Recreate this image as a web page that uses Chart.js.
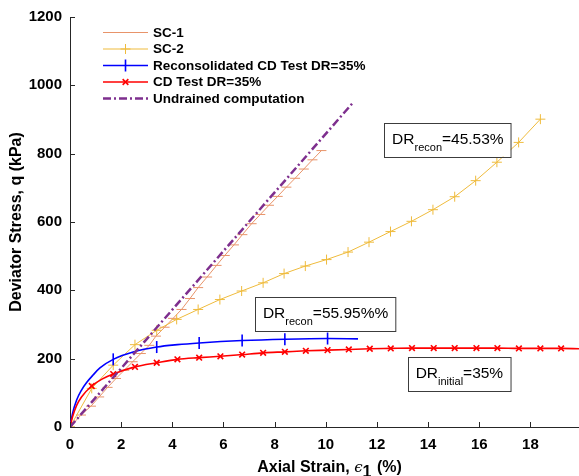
<!DOCTYPE html>
<html>
<head>
<meta charset="utf-8">
<script src="https://cdn.jsdelivr.net/npm/chart.js@4.4.1/dist/chart.umd.min.js"></script>
<style>
  html, body { margin: 0; padding: 0; background: #fff; overflow: hidden; }
  #wrap { width: 579px; height: 476px; }
</style>
</head>
<body>
<div id="wrap"><canvas id="myChart"></canvas></div>
<script>
'use strict';

// SC-1 (marker on every point)
let sc1Strain = [0, 0.43, 0.82, 1.14, 1.47, 1.8, 2.12, 2.45, 2.77, 3.1, 3.36, 3.7, 4.03, 4.36, 4.69, 5.01, 5.36, 5.73, 6.05, 6.41, 6.74, 7.1, 7.44, 7.78, 8.12, 8.46, 8.8, 9.14, 9.48, 9.83];
let sc1Stress = [0, 35, 61, 88, 116, 142, 166, 191, 215, 239, 266, 292, 318, 344, 376, 408, 439, 473, 502, 533, 563, 595, 622, 649, 675, 702, 728, 755, 782, 809];

// SC-2 (marker on every point)
let sc2Strain = [0, 0.85, 1.69, 2.54, 3.39, 4.17, 5.01, 5.86, 6.71, 7.55, 8.37, 9.2, 10.03, 10.87, 11.69, 12.53, 13.35, 14.19, 15.04, 15.86, 16.69, 17.54, 18.39];
let sc2Stress = [0, 113, 181, 241, 283, 315, 344, 373, 398, 422, 449, 471, 490, 512, 541, 572, 602, 636, 674, 721, 775, 833, 901];

// Reconsolidated CD test, DR = 35%
let reconStrain = [0, 0.1, 0.26, 0.45, 0.65, 0.9, 1.17, 1.69, 2.5, 3.39, 4.2, 5.05, 6.73, 8.4, 10.07, 11.26];
let reconStress = [0, 40, 79, 108, 130, 152, 173, 198, 220, 234, 241, 246, 253, 257, 259, 258];
let reconMarkStrain = [0, 1.69, 3.39, 5.05, 6.73, 8.4, 10.07];
let reconMarkStress = [0, 198, 234, 246, 253, 257, 259];

// CD test, DR = 35%
let cdStrain = [0, 0.1, 0.25, 0.45, 0.85, 1.25, 1.69, 2.54, 3.39, 4.2, 5.05, 5.88, 6.73, 7.55, 8.4, 9.22, 10.07, 10.9, 11.72, 12.54, 13.37, 14.22, 15.04, 15.89, 16.71, 17.55, 18.39, 19.2, 19.9];
let cdStress = [0, 30, 62, 88, 120, 140, 155, 176, 188, 198, 203, 207, 212, 217, 220, 223, 225, 227, 229, 230, 231, 231, 231, 231, 231, 230, 230, 230, 229];
let cdMarkStrain = [0, 0.85, 1.69, 2.54, 3.39, 4.2, 5.05, 5.88, 6.73, 7.55, 8.4, 9.22, 10.07, 10.9, 11.72, 12.54, 13.37, 14.22, 15.04, 15.89, 16.71, 17.55, 18.39, 19.2];
let cdMarkStress = [0, 120, 155, 176, 188, 198, 203, 207, 212, 217, 220, 223, 225, 227, 229, 230, 231, 231, 231, 231, 231, 230, 230, 230];

// undrained computation
let undrainedStrain = [0, 11.07];
let undrainedStress = [0, 950];

let xTicks = [0, 2, 4, 6, 8, 10, 12, 14, 16, 18];
let yTicks = [0, 200, 400, 600, 800, 1000, 1200];

let legendNames = ['SC-1', 'SC-2', 'Reconsolidated CD Test DR=35%', 'CD Test DR=35%', 'Undrained computation'];

// text boxes: [sub text, rest, left strain, top stress]
let notes = [
  ['recon', '=45.53%', 12.28, 891],
  ['recon', '=55.95%%', 7.23, 380],
  ['initial', '=35%', 13.2, 205]
];

const axisColor = '#262626';
const cSc1 = '#e8946a';
const cSc2 = '#efbb3c';
const cBlue = '#0000ff';
const cRed = '#ff0000';
const cPurple = '#7e2f8e';

function pts(xs, ys) {
  let out = [];
  for (let i = 0; i < xs.length; i++) {
    out.push({ x: xs[i], y: ys[i] });
  }
  return out;
}

// legend swatches, same order as legendNames
let legendStyles = [
  { color: cSc1, width: 1, dash: [], point: 'line', radius: 5, rotation: 0 },
  { color: cSc2, width: 1, dash: [], point: 'cross', radius: 5, rotation: 0 },
  { color: cBlue, width: 1.6, dash: [], point: 'line', radius: 6, rotation: 90 },
  { color: cRed, width: 1.6, dash: [], point: 'crossRot', radius: 4, rotation: 0 },
  { color: cPurple, width: 2.5, dash: [8, 3, 2, 3], point: null }
];

const matlabLook = {
  id: 'matlabLook',
  afterDraw(chart) {
    const ctx = chart.ctx;
    const xs = chart.scales.x;
    const ys = chart.scales.y;
    const area = chart.chartArea;
    ctx.save();

    // inward tick marks
    ctx.strokeStyle = axisColor;
    ctx.lineWidth = 1;
    ctx.beginPath();
    xTicks.forEach(function (v) {
      let px = Math.round(xs.getPixelForValue(v)) + 0.5;
      ctx.moveTo(px, area.bottom);
      ctx.lineTo(px, area.bottom - 5);
    });
    yTicks.forEach(function (v) {
      let py = Math.round(ys.getPixelForValue(v)) + 0.5;
      ctx.moveTo(area.left, py);
      ctx.lineTo(area.left + 5, py);
    });
    ctx.stroke();

    // legend
    let lx = 103, ly = 32.5, step = 16.5;
    ctx.font = 'bold 13.5px "Liberation Sans", Arial, sans-serif';
    ctx.textBaseline = 'middle';
    ctx.textAlign = 'left';
    for (let i = 0; i < legendNames.length; i++) {
      let s = legendStyles[i];
      let y = ly + i * step;
      ctx.strokeStyle = s.color;
      ctx.lineWidth = s.width;
      ctx.setLineDash(s.dash);
      ctx.beginPath();
      ctx.moveTo(lx, y);
      ctx.lineTo(lx + 45, y);
      ctx.stroke();
      ctx.setLineDash([]);
      if (s.point) {
        ctx.strokeStyle = s.color;
        ctx.fillStyle = s.color;
        ctx.lineWidth = s.width;
        Chart.helpers.drawPoint(ctx, { pointStyle: s.point, radius: s.radius, rotation: s.rotation, borderWidth: s.width }, lx + 22.5, y);
      }
      ctx.fillStyle = '#000';
      ctx.fillText(legendNames[i], lx + 50, y + 0.5);
    }

    // text boxes
    notes.forEach(function (n) {
      let bx = xs.getPixelForValue(n[2]);
      let by = ys.getPixelForValue(n[3]);
      let big = '15.5px "Liberation Sans", Arial, sans-serif';
      let small = '11px "Liberation Sans", Arial, sans-serif';
      ctx.font = big;
      let w1 = ctx.measureText('DR').width;
      let w3 = ctx.measureText(n[1]).width;
      ctx.font = small;
      let w2 = ctx.measureText(n[0]).width;
      let bw = 8 + w1 + w2 + w3 + 7;
      let bh = 34;
      ctx.fillStyle = '#fff';
      ctx.fillRect(bx, by, bw, bh);
      ctx.strokeStyle = '#3c3c3c';
      ctx.lineWidth = 1;
      ctx.strokeRect(Math.round(bx) + 0.5, Math.round(by) + 0.5, bw, bh);
      ctx.fillStyle = '#000';
      ctx.textBaseline = 'alphabetic';
      ctx.font = big;
      ctx.fillText('DR', bx + 8, by + 21);
      ctx.font = small;
      ctx.fillText(n[0], bx + 8 + w1, by + 28);
      ctx.font = big;
      ctx.fillText(n[1], bx + 8 + w1 + w2, by + 21);
    });

    // axis titles
    ctx.fillStyle = '#000';
    ctx.textBaseline = 'alphabetic';
    let tf = 'bold 16px "Liberation Sans", Arial, sans-serif';
    let parts = [
      ['Axial Strain, ', tf, 0],
      ['\u03f5', 'italic 15px "DejaVu Serif", serif', 0],
      ['1', tf, 5],
      [' (%)', tf, 0]
    ];
    let total = 0;
    parts.forEach(function (p) {
      ctx.font = p[1];
      total += ctx.measureText(p[0]).width + (p[2] ? 1 : 0);
    });
    let tx = (area.left + 579) / 2 - total / 2 + 5;
    parts.forEach(function (p) {
      ctx.font = p[1];
      ctx.fillText(p[0], tx, 472 + p[2]);
      tx += ctx.measureText(p[0]).width + (p[2] ? 1 : 0);
    });

    ctx.translate(21, (area.top + area.bottom) / 2);
    ctx.rotate(-Math.PI / 2);
    ctx.font = tf;
    ctx.textAlign = 'center';
    ctx.fillText('Deviator Stress, q (kPa)', 0, 0);
    ctx.restore();
  }
};

let tickFont = { family: '"Liberation Sans", Arial, sans-serif', size: 15, weight: 'bold' };

let config = {
  type: 'scatter',
  data: {
    datasets: [
      {
        data: pts(undrainedStrain, undrainedStress),
        showLine: true, borderColor: cPurple, borderWidth: 2.5, borderDash: [8, 3, 2, 3],
        pointRadius: 0
      },
      {
        data: pts(cdMarkStrain, cdMarkStress),
        showLine: false, pointStyle: 'crossRot', pointRadius: 4,
        pointBorderColor: cRed, pointBorderWidth: 1.6
      },
      {
        data: pts(cdStrain, cdStress),
        showLine: true, borderColor: cRed, borderWidth: 1.6, cubicInterpolationMode: 'monotone',
        pointRadius: 0
      },
      {
        data: pts(reconMarkStrain, reconMarkStress),
        showLine: false, pointStyle: 'line', pointRadius: 6, pointRotation: 90,
        pointBorderColor: cBlue, pointBorderWidth: 1.6
      },
      {
        data: pts(reconStrain, reconStress),
        showLine: true, borderColor: cBlue, borderWidth: 1.6, cubicInterpolationMode: 'monotone',
        pointRadius: 0
      },
      {
        data: pts(sc2Strain, sc2Stress),
        showLine: true, borderColor: cSc2, borderWidth: 1,
        pointStyle: 'cross', pointRadius: 5, pointBorderColor: cSc2, pointBorderWidth: 1
      },
      {
        data: pts(sc1Strain, sc1Stress),
        showLine: true, borderColor: cSc1, borderWidth: 1,
        pointStyle: 'line', pointRadius: 5, pointBorderColor: cSc1, pointBorderWidth: 1
      }
    ]
  },
  options: {
    responsive: true,
    maintainAspectRatio: false,
    animation: false,
    events: [],
    layout: { autoPadding: false, padding: { left: 0, right: 0, top: 16, bottom: 0 } },
    plugins: { legend: { display: false }, tooltip: { enabled: false } },
    scales: {
      x: {
        type: 'linear', min: 0, max: 19.9,
        afterFit(scale) { scale.height = 49; },
        afterBuildTicks(scale) { scale.ticks = xTicks.map(v => ({ value: v })); },
        ticks: {
          color: '#000', padding: 9, maxRotation: 0, font: tickFont,
          callback: v => String(v)
        },
        grid: { display: false, drawTicks: false },
        border: { display: true, color: axisColor, width: 1 }
      },
      y: {
        min: 0, max: 1200,
        afterFit(scale) { scale.width = 70; },
        afterBuildTicks(scale) { scale.ticks = yTicks.map(v => ({ value: v })); },
        ticks: {
          color: '#000', padding: 8, font: tickFont,
          callback: v => String(v)
        },
        grid: { display: false, drawTicks: false },
        border: { display: true, color: axisColor, width: 1 }
      }
    }
  },
  plugins: [matlabLook]
};

let chartCanvas = document.getElementById('myChart').getContext('2d');
const myChart = new Chart(chartCanvas, config);
</script>
</body>
</html>
